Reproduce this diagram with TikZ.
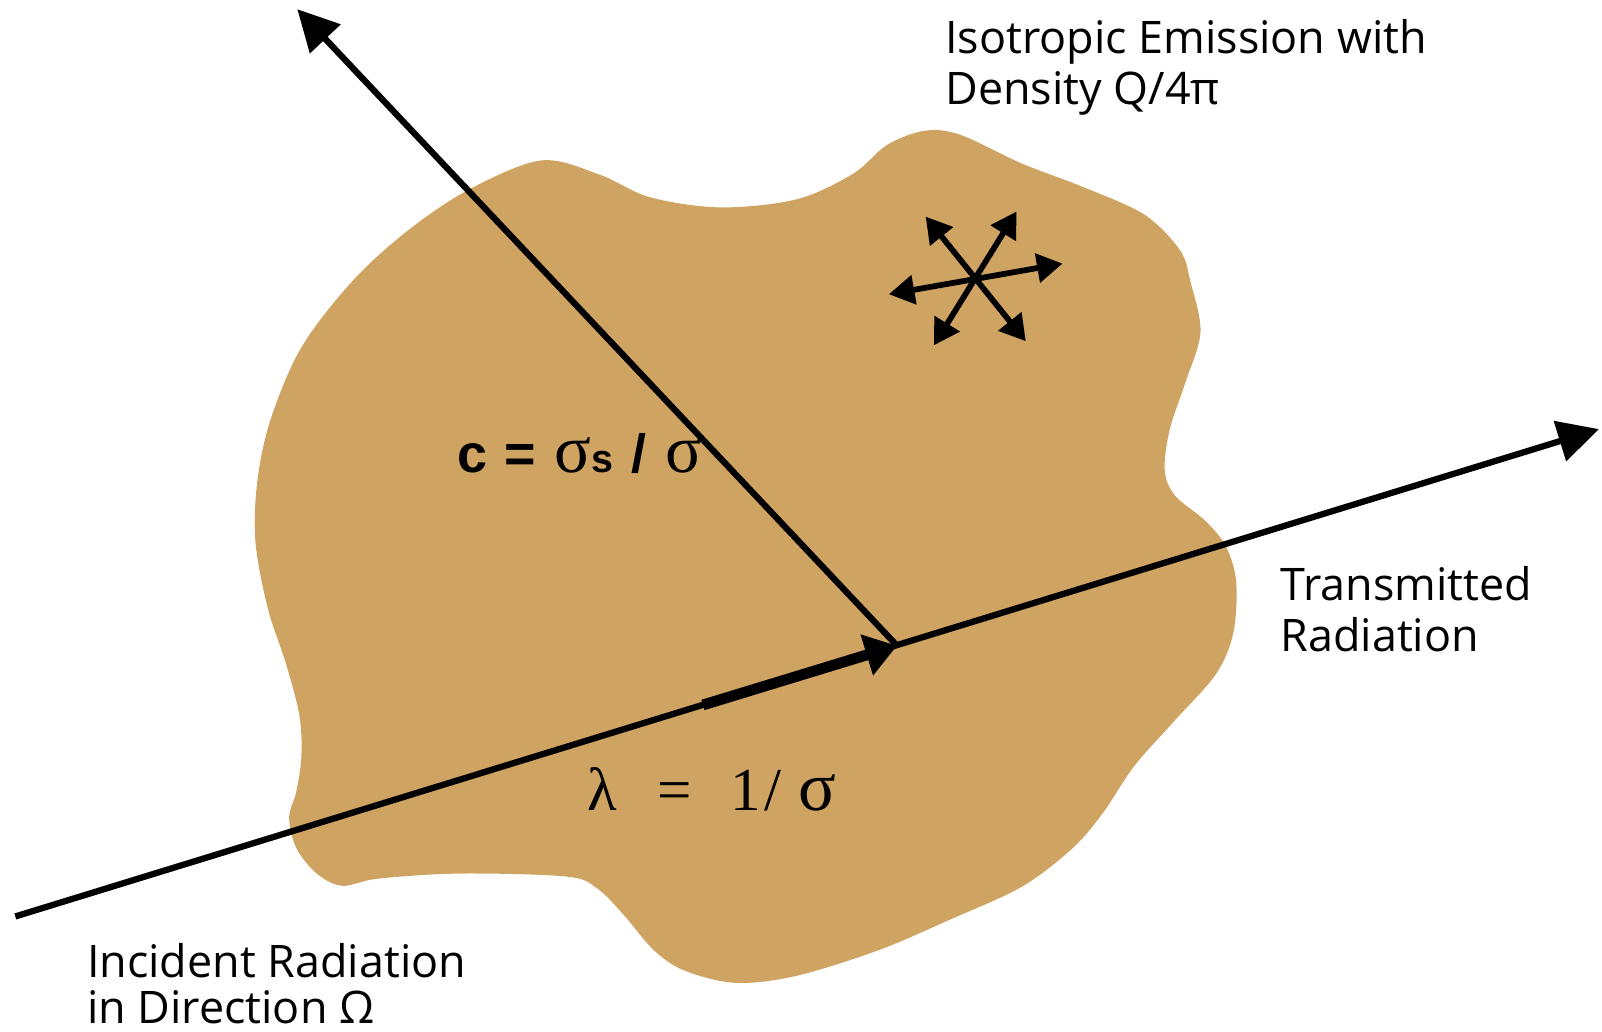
\documentclass[tikz,border=0pt]{standalone}
\usepackage{fontspec}
\setmainfont{Open Sans}
\newfontfamily\greekserif{Liberation Serif}
\newfontfamily\heavysans{Liberation Sans}
\usetikzlibrary{arrows.meta}
\definecolor{slab}{RGB}{207,164,99}

\begin{document}
\begin{tikzpicture}[x=0.02cm, y=-0.02cm,
  ray/.style={line width=3.5pt, -{Triangle[length=0.8cm, width=0.8cm]}},
  fatray/.style={line width=6pt, -{Triangle[length=0.62cm, width=0.8cm]}},
  emit/.style={line width=3.2pt, {Triangle[length=0.5cm, width=0.56cm]}-{Triangle[length=0.5cm, width=0.56cm]}},
  label/.style={anchor=base west, inner sep=0pt, font=\fontsize{25}{28}\selectfont},
  formula/.style={anchor=base west, inner sep=0pt}
]
\useasboundingbox (0,0) rectangle (1568,1010);

% medium
\fill[slab] plot[smooth cycle, tension=0.55] coordinates {
  (530,157) (587,171) (636,193) (705,203) (780,195) (835,170) (868,142)
  (905,128) (940,132)
  (1000,160) (1060,183) (1120,210) (1155,245) (1165,275) (1175,325)
  (1160,375) (1145,420) (1140,460) (1150,485) (1180,510) (1200,535)
  (1210,570) (1207,620) (1190,660) (1150,705) (1110,750) (1080,795)
  (1050,830) (1000,868) (930,900) (860,930) (780,955) (720,962)
  (670,950) (640,930) (610,895) (585,870) (555,858) (450,855) (370,860)
  (335,867) (310,855) (290,830) (283,800) (290,775) (295,740) (293,700)
  (280,650) (262,595) (250,530) (252,470) (265,410) (295,340) (345,275)
  (400,225) (460,185)};

\coordinate (incident) at (15,897);
\coordinate (collision) at (878,632);
\coordinate (transmitted) at (1565,420);
\coordinate (scattered) at (291,9);
\coordinate (pathstart) at (688,690);

\draw[ray] (incident) -- (transmitted);
\draw[ray] (collision) -- (scattered);
\draw[fatray] (pathstart) -- (collision);

% isotropic source
\coordinate (source) at (956,271);
\coordinate (emitL) at (870,288);
\coordinate (emitR) at (1040,258);
\coordinate (emitUL) at (906,212);
\coordinate (emitLR) at (1004,334);
\coordinate (emitUR) at (995,207);
\coordinate (emitLL) at (914,338);
\draw[emit] (emitL) -- (emitR);
\draw[emit] (emitUL) -- (emitLR);
\draw[emit] (emitUR) -- (emitLL);

\node[label] (isoA) at (925,52) {Isotropic Emission with};
\node[label] (isoB) at (925,102) {Density Q/4π};
\node[label] (transA) at (1253,588) {Transmitted};
\node[label] (transB) at (1253,638) {Radiation};
\node[label] (incA) at (85,957) {Incident Radiation};
\node[label] (incB) at (85,1002) {in Direction Ω};

\node[formula, font=\fontsize{30}{32}\heavysans\bfseries] (albedo) at (447,462)
  {c\hspace{10pt}=\hspace{10pt}{\fontsize{38}{32}\greekserif\mdseries σ}{\fontsize{22}{32}\selectfont s}\hspace{10pt}/\hspace{11pt}{\fontsize{38}{32}\greekserif\mdseries σ}};
\node[formula, font=\fontsize{34}{36}\greekserif] (meanpath) at (575,793)
  {λ\hspace{22.5pt}=\hspace{21.5pt}1\hspace{2pt}/\hspace{9pt}{\fontsize{39}{36}\selectfont σ}};
\end{tikzpicture}
\end{document}
